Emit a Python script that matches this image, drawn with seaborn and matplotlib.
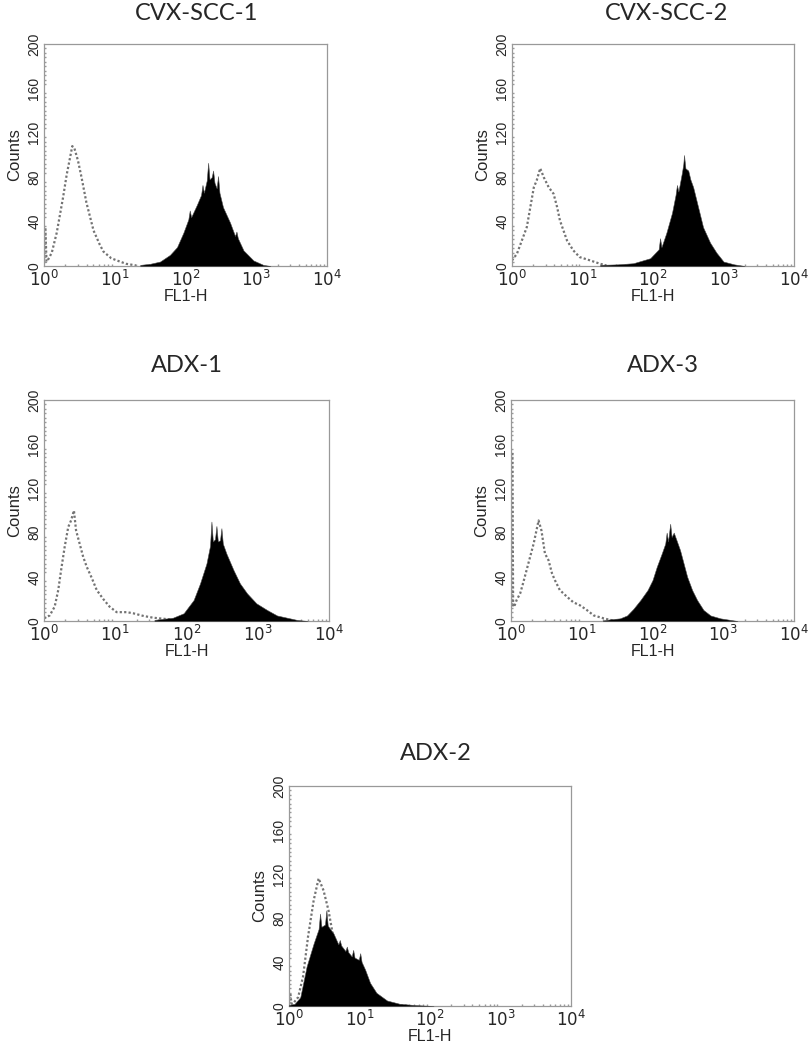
import numpy as np
import matplotlib.pyplot as plt
import seaborn as sns

# FL1-H positions are given as log10 of the channel value, counts read off the picture
# CVX-SCC-1
cvx1_ctrl_log = [0.02, 0.035, 0.06, 0.11, 0.18, 0.27, 0.32, 0.36, 0.40, 0.43, 0.48, 0.53, 0.60, 0.70, 0.79, 0.84, 0.95, 1.03, 1.16, 1.30]
cvx1_ctrl_counts = [34, 4, 6, 12, 30, 62, 82, 95, 108, 106, 95, 80, 57, 32, 19, 13, 7, 5, 2, 0.5]
cvx1_samp_log = [1.36, 1.50, 1.64, 1.78, 1.88, 1.97, 2.04, 2.06, 2.08, 2.16, 2.22, 2.24, 2.26, 2.30, 2.32, 2.34,
                 2.37, 2.39, 2.41, 2.44, 2.46, 2.48, 2.53, 2.63, 2.70, 2.72, 2.74, 2.82, 2.96, 3.10, 3.20]
cvx1_samp_counts = [1, 2, 4, 10, 17, 30, 42, 50, 44, 55, 64, 73, 66, 77, 93, 78,
                    80, 86, 75, 70, 81, 66, 53, 39, 27, 31, 25, 14, 5, 1, 0]

# CVX-SCC-2
cvx2_ctrl_log = [0.00, 0.07, 0.14, 0.21, 0.26, 0.31, 0.35, 0.40, 0.45, 0.52, 0.59, 0.64, 0.68, 0.73, 0.78, 0.87, 0.96, 1.11, 1.25, 1.34]
cvx2_ctrl_counts = [5, 11, 23, 35, 53, 71, 77, 88, 80, 71, 65, 53, 41, 32, 23, 14, 8, 5, 2, 0.5]
cvx2_samp_log = [1.25, 1.50, 1.72, 1.96, 2.08, 2.10, 2.12, 2.19, 2.27, 2.32, 2.34, 2.36, 2.41, 2.43, 2.44,
                 2.46, 2.50, 2.53, 2.57, 2.64, 2.71, 2.81, 2.90, 3.00, 3.15, 3.30]
cvx2_samp_counts = [1, 1.5, 2.5, 7, 15, 25, 17, 30, 48, 64, 73, 67, 84, 92, 100,
                    88, 86, 78, 71, 53, 35, 21, 12, 4, 1.5, 0]

# ADX-1
adx1_ctrl_log = [0.00, 0.08, 0.15, 0.20, 0.24, 0.29, 0.34, 0.38, 0.42, 0.45, 0.50, 0.55, 0.60, 0.67, 0.74, 0.83, 0.92, 1.02, 1.16, 1.25, 1.40, 1.53, 1.68, 1.82, 1.90]
adx1_ctrl_counts = [2.4, 5, 13, 28, 46, 67, 85, 91, 100, 82, 70, 58, 49, 39, 28, 20, 13, 8, 8, 7, 4.5, 3, 2, 1, 0]
adx1_samp_log = [1.55, 1.81, 1.96, 2.10, 2.19, 2.28, 2.33, 2.35, 2.37, 2.40, 2.42, 2.44, 2.47, 2.49, 2.51,
                 2.56, 2.66, 2.75, 2.85, 2.98, 3.13, 3.27, 3.41, 3.55, 3.70]
adx1_samp_counts = [1, 3, 7, 19, 34, 52, 68, 90, 72, 74, 86, 72, 73, 84, 70,
                    61, 46, 34, 25, 16, 10, 5, 3, 1, 0]

# ADX-3
adx3_ctrl_log = [0.02, 0.03, 0.045, 0.08, 0.13, 0.17, 0.22, 0.27, 0.32, 0.36, 0.39, 0.43, 0.48, 0.53, 0.58, 0.62, 0.69, 0.79, 0.88, 0.98, 1.07, 1.17, 1.31, 1.40, 1.50]
adx3_ctrl_counts = [152, 13, 13, 19, 25, 34, 46, 58, 70, 82, 91, 82, 61, 55, 43, 37, 28, 22, 17, 14, 10, 5, 2.4, 1, 0]
adx3_samp_log = [1.30, 1.40, 1.54, 1.64, 1.73, 1.83, 1.93, 2.00, 2.06, 2.13, 2.18, 2.20, 2.22, 2.25, 2.27,
                 2.30, 2.34, 2.39, 2.44, 2.49, 2.56, 2.63, 2.72, 2.82, 2.96, 3.10, 3.20]
adx3_samp_counts = [0.5, 1.5, 2.4, 5, 11, 19, 28, 37, 49, 61, 70, 80, 72, 88, 76,
                    80, 73, 64, 52, 40, 28, 19, 10, 5, 2.4, 1, 0]

# ADX-2
adx2_ctrl_log = [0.02, 0.035, 0.06, 0.13, 0.20, 0.27, 0.35, 0.42, 0.49, 0.56, 0.63, 0.72, 0.82, 0.91, 1.01, 1.10, 1.20, 1.34, 1.53, 1.70]
adx2_ctrl_counts = [11, 2, 2.4, 8, 27, 63, 96, 116, 105, 87, 62, 52, 44, 38, 30, 18, 8, 3, 1, 0]
adx2_samp_log = [0.00, 0.08, 0.16, 0.25, 0.35, 0.42, 0.44, 0.46, 0.51, 0.53, 0.55, 0.63, 0.70, 0.72, 0.74, 0.80,
                 0.82, 0.84, 0.89, 0.91, 0.93, 0.99, 1.01, 1.03, 1.08, 1.15, 1.24, 1.39, 1.57, 1.80, 2.05]
adx2_samp_counts = [1, 2, 8, 36, 57, 70, 84, 72, 74, 87, 73, 66, 56, 60, 55, 50,
                    54, 49, 45, 51, 44, 42, 48, 40, 33, 21, 12, 5, 2, 0.8, 0]

titles = ["CVX-SCC-1", "CVX-SCC-2", "ADX-1", "ADX-3", "ADX-2"]
y_ticks = [0, 40, 80, 120, 160, 200]

panels = [
    (cvx1_ctrl_log, cvx1_ctrl_counts, cvx1_samp_log, cvx1_samp_counts),
    (cvx2_ctrl_log, cvx2_ctrl_counts, cvx2_samp_log, cvx2_samp_counts),
    (adx1_ctrl_log, adx1_ctrl_counts, adx1_samp_log, adx1_samp_counts),
    (adx3_ctrl_log, adx3_ctrl_counts, adx3_samp_log, adx3_samp_counts),
    (adx2_ctrl_log, adx2_ctrl_counts, adx2_samp_log, adx2_samp_counts),
]

# axes boxes in pixels: left, top, right, bottom ; title centre in pixels
W, H = 809, 1050
boxes = [(44, 44, 327, 266), (512, 44, 794, 266), (44, 400, 329, 621),
         (511, 400, 794, 621), (289, 786, 571, 1006)]
title_pos = [(197, 14), (667, 14), (187, 366), (663, 366), (436, 753)]

sns.set_theme(style="white")
plt.rcParams['font.family'] = ['Liberation Sans', 'DejaVu Sans']

fig = plt.figure(figsize=(W / 100, H / 100), dpi=100)

for (ctrl_log, ctrl_counts, samp_log, samp_counts), box, title, tpos in zip(panels, boxes, titles, title_pos):
    l, t, r, b = box
    ax = fig.add_axes([l / W, 1 - b / H, (r - l) / W, (b - t) / H])
    ax.set_xscale('log')

    # control histogram, dotted outline
    sns.lineplot(x=10 ** np.array(ctrl_log), y=ctrl_counts, ax=ax, color='0.45',
                 linestyle=(0, (1, 1)), linewidth=1.6, sort=False, estimator=None, zorder=2)
    # stained sample, solid black fill
    ax.fill_between(10 ** np.array(samp_log), samp_counts, 0, color='black', linewidth=0.4,
                    edgecolor='0.3', zorder=3)

    ax.set_xlim(1, 1e4)
    ax.set_ylim(0, 200)
    ax.set_xticks([1, 10, 100, 1000, 10000])
    ax.set_xticklabels([r'$10^{%d}$' % i for i in range(5)], fontsize=12)
    ax.set_yticks(y_ticks)
    ax.set_yticklabels([str(v) for v in y_ticks], fontsize=10, rotation=90, va='center')
    ax.set_yticks(np.arange(0, 201, 4), minor=True)
    ax.tick_params(axis='both', which='major', length=2, direction='in', color='0.6', pad=2)
    ax.tick_params(axis='y', which='minor', left=True, length=1.5, direction='in', color='0.6')
    ax.tick_params(axis='x', which='minor', bottom=True, length=1.5, direction='in', color='0.6')
    ax.set_xlabel("FL1-H", fontsize=11.5, labelpad=0)
    ax.set_ylabel("Counts", fontsize=12, labelpad=4)
    for sp in ax.spines.values():
        sp.set_color('0.6')
        sp.set_linewidth(0.9)

    fig.text(tpos[0] / W, 1 - tpos[1] / H, title, ha='center', va='center',
             fontsize=17, family=['Lato', 'DejaVu Sans'])

fig.savefig("out.png", dpi=100)
